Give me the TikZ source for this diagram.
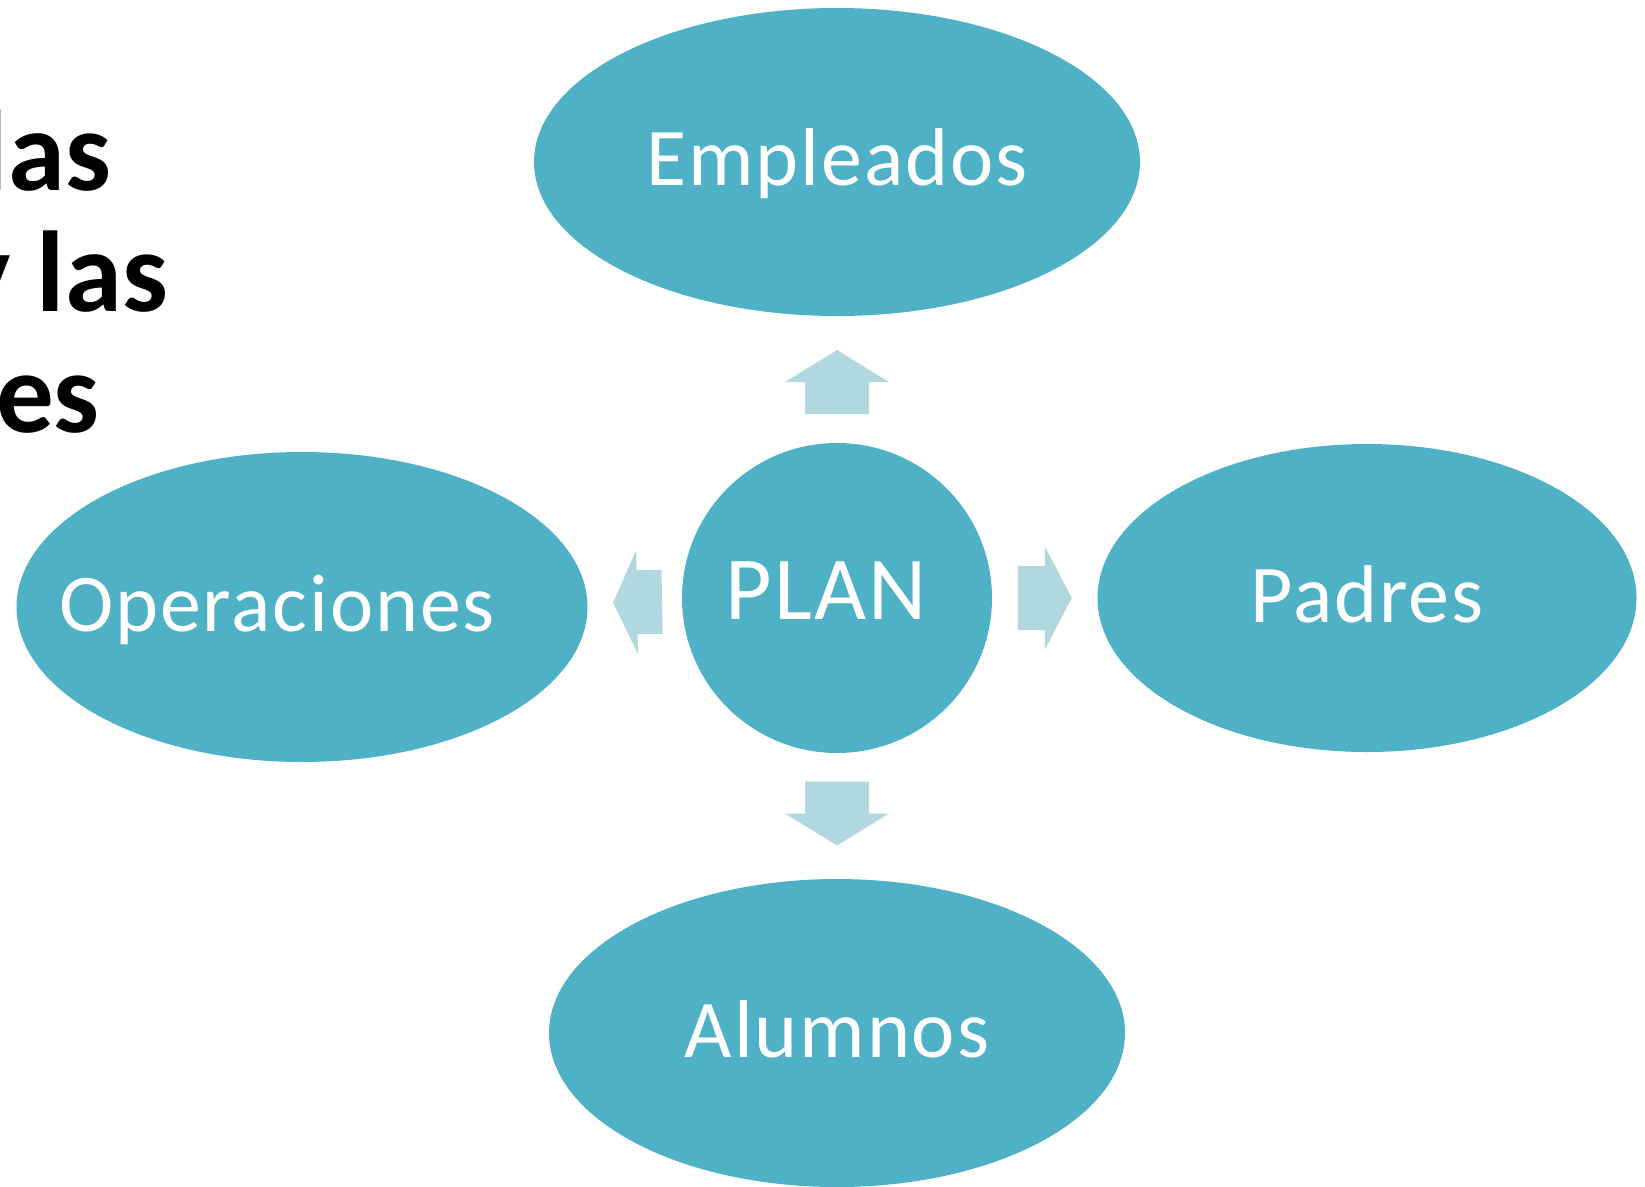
\documentclass[tikz,border=0pt]{standalone}
\usepackage{fontspec}
\setmainfont{Carlito}
\newfontfamily\spaced{Carlito}[LetterSpace=2.3]
\usetikzlibrary{shapes.geometric,calc}
\definecolor{aqua}{RGB}{79,177,198}
\definecolor{aqualight}{RGB}{177,215,223}
\tikzset{
  bubble/.style={ellipse, fill=aqua, draw=none, inner sep=0pt},
  lbl/.style={text=white, inner sep=0pt, anchor=base, font=\spaced\fontsize{82}{82}\selectfont},
  bigtxt/.style={text=black, inner sep=0pt, anchor=base east, font=\bfseries\fontsize{115}{115}\selectfont},
  arrowfill/.style={fill=aqualight, draw=none}
}
\newcommand\blockarrow[4]{%
  \fill[arrowfill, shift={#1}, rotate=#2]
    ({-#3/2},-32) -- ({#3/2-#4},-32) -- ({#3/2-#4},-52) -- ({#3/2},0) --
    ({#3/2-#4},52) -- ({#3/2-#4},32) -- ({-#3/2},32) -- cycle;}
\begin{document}
\begin{tikzpicture}[x=1pt,y=-1pt]
\useasboundingbox (0,0) rectangle (1645,1186);
\clip (0,0) rectangle (1645,1186);
% title fragments
\node[bigtxt] (t1) at (111,190) {las};
\node[bigtxt] (t2) at (168,311) {y las};
\node[bigtxt] (t3) at (100,432) {es};
% bubbles
\node[bubble, minimum width=606pt, minimum height=308pt] (emp) at (837,162) {};
\node[circle, fill=aqua, inner sep=0pt, minimum size=310pt] (plan) at (837,598) {};
\node[bubble, minimum width=571pt, minimum height=310pt] (ope) at (302,607) {};
\node[bubble, minimum width=539pt, minimum height=308pt] (pad) at (1367,598) {};
\node[bubble, minimum width=576pt, minimum height=308pt] (alu) at (837,1033) {};
% labels
\node[lbl] (empT) at ($(emp.center)+(0,23)$) {Empleados};
\node[lbl, font=\spaced\fontsize{90}{90}\selectfont] (planT) at ($(plan.center)+(-11,21)$) {PLAN};
\node[lbl] (opeT) at ($(ope.center)+(-25,24)$) {Operaciones};
\node[lbl] (padT) at ($(pad.center)+(0,24)$) {Padres};
\node[lbl] (aluT) at ($(alu.center)+(0,24)$) {Alumnos};
% arrows
\blockarrow{($(plan.north)!0.48!(emp.south)$)}{90}{64}{32}
\blockarrow{($(plan.south)!0.48!(alu.north)$)}{-90}{64}{32}
\blockarrow{($(plan.west)!0.47!(ope.east)$)}{181}{49}{24}
\blockarrow{($(plan.east)!0.5!(pad.west)$)}{0}{54}{27}
\end{tikzpicture}
\end{document}
